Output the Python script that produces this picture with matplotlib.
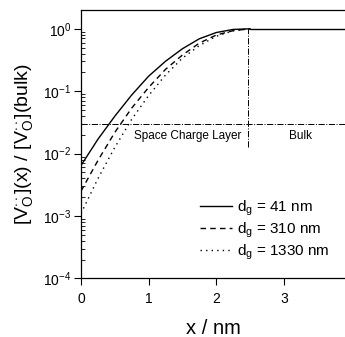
import matplotlib
matplotlib.use("Agg")
import matplotlib.pyplot as plt
from matplotlib.ticker import LogLocator, NullFormatter, FixedLocator

plt.rcParams['font.family'] = ['Liberation Sans', 'DejaVu Sans']
plt.rcParams['mathtext.fontset'] = 'custom'
plt.rcParams['mathtext.rm'] = 'Liberation Sans'
plt.rcParams['mathtext.it'] = 'Liberation Sans'
plt.rcParams['mathtext.bf'] = 'Liberation Sans:bold'

# Data
x_scl = [0.0, 0.25, 0.5, 0.75, 1.0, 1.25, 1.5, 1.75, 2.0, 2.25, 2.5]
c_41 = [0.00646, 0.0170, 0.0398, 0.0871, 0.174, 0.302, 0.479, 0.692, 0.871, 0.977, 1.0]
c_310 = [0.00251, 0.00776, 0.0219, 0.0537, 0.115, 0.224, 0.380, 0.589, 0.794, 0.933, 1.0]
c_1330 = [0.00110, 0.00398, 0.0126, 0.0355, 0.0851, 0.182, 0.339, 0.537, 0.759, 0.933, 1.0]
x_bulk = [2.5, 3.905]
c_bulk = [1.0, 1.0]
labels = [r'd$_\mathrm{g}$ = 41 nm', r'd$_\mathrm{g}$ = 310 nm', r'd$_\mathrm{g}$ = 1330 nm']
boundary_x = 2.47
boundary_ylow = 0.013
level_y = 0.03

fig = plt.figure(figsize=(3.45, 3.37), dpi=100)
ax = fig.add_axes([0.2348, 0.1736, 0.7652, 0.7967])

ax.plot(x_scl, c_41, color='black', lw=1.0, ls='-', label=labels[0])
ax.plot(x_scl, c_310, color='black', lw=1.0, ls=(0, (4, 3)), label=labels[1])
ax.plot(x_scl, c_1330, color='black', lw=1.0, ls=(0, (1, 3)), label=labels[2])
ax.plot(x_bulk, c_bulk, color='black', lw=1.0, ls='-')

ax.plot([boundary_x, boundary_x], [boundary_ylow, 1.0], color='black', lw=0.7, ls='-.')
ax.plot([0, 3.905], [level_y, level_y], color='black', lw=0.7, ls='-.')

ax.text(1.575, 0.0195, 'Space Charge Layer', ha='center', va='center', fontsize=8.5)
ax.text(3.24, 0.0195, 'Bulk', ha='center', va='center', fontsize=8.5)

ax.set_yscale('log')
ax.set_xlim(0, 3.905)
ax.set_ylim(1e-4, 2.0)
ax.xaxis.set_major_locator(FixedLocator([0, 1, 2, 3]))
ax.yaxis.set_major_locator(LogLocator(base=10, numticks=10))
ax.yaxis.set_minor_locator(LogLocator(base=10, subs=range(2, 10), numticks=20))
ax.yaxis.set_minor_formatter(NullFormatter())
ax.tick_params(axis='both', which='major', direction='out', length=5, width=0.8, labelsize=10,
               top=False, right=False)
ax.tick_params(axis='y', which='minor', direction='in', length=3, width=0.6)
ax.tick_params(axis='x', which='major', pad=5)
ax.tick_params(axis='y', which='major', pad=2)
ax.spines['right'].set_visible(False)
for s in ['left', 'bottom', 'top']:
    ax.spines[s].set_linewidth(0.9)

ax.set_xlabel('x / nm', fontsize=14.5, labelpad=9)
ax.set_ylabel(r'[V$_\mathrm{O}^{\cdot\cdot}$](x) / [V$_\mathrm{O}^{\cdot\cdot}$](bulk)', fontsize=14, labelpad=6)

leg = ax.legend(loc='lower left', bbox_to_anchor=(0.451, 0.0625), frameon=False, fontsize=11,
                handlelength=2.1, handletextpad=0.3, labelspacing=0.17,
                borderpad=0, borderaxespad=0)

fig.savefig('out.png', dpi=100)
